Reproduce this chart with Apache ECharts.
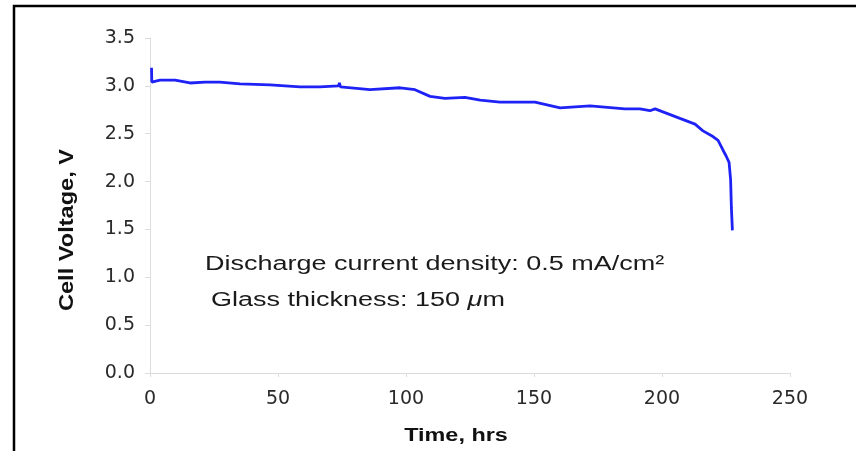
<!DOCTYPE html>
<html>
<head>
<meta charset="utf-8">
<script src="https://cdn.jsdelivr.net/npm/echarts@6/dist/echarts.min.js"></script>
<style>
html,body{margin:0;padding:0;background:#fff;}
#chart{width:856px;height:451px;}
</style>
</head>
<body>
<div id="chart"></div>
<script>
// Data
const timeHrs = [0.6, 0.7, 3.9, 9.8, 15.6, 21.5, 27.3, 35.2, 46.9, 58.6, 66.4, 73.6, 74.0, 74.4, 85.9, 97.7, 103.5, 109.4, 115.2, 123.0, 129.0, 136.7, 150.4, 160.2, 171.9, 185.5, 191.4, 195.3, 197.3, 207.0, 212.9, 216.0, 219.9, 221.9, 223.8, 225.0, 226.2, 226.8, 227.1, 227.5];
const cellVoltage = [3.19, 3.04, 3.06, 3.06, 3.03, 3.04, 3.04, 3.02, 3.01, 2.99, 2.99, 3.00, 3.03, 2.99, 2.96, 2.98, 2.96, 2.89, 2.87, 2.88, 2.85, 2.83, 2.83, 2.77, 2.79, 2.76, 2.76, 2.74, 2.76, 2.66, 2.60, 2.53, 2.47, 2.43, 2.33, 2.27, 2.20, 2.02, 1.73, 1.49];
const xTicks = [0, 50, 100, 150, 200, 250];
const yTicks = [0.0, 0.5, 1.0, 1.5, 2.0, 2.5, 3.0, 3.5];
const xTitle = 'Time, hrs';
const yTitle = 'Cell Voltage, V';
const noteLine1 = 'Discharge current density: 0.5 mA/cm²';
const noteLine2a = 'Glass thickness: 150 ';
const noteLine2mu = 'μ';
const noteLine2b = 'm';

const seriesData = timeHrs.map((t, i) => [t, cellVoltage[i]]);

const chart = echarts.init(document.getElementById('chart'));
const axisGray = '#dcdcdc';
const labelFont = 'DejaVu Sans';
chart.setOption({
  animation: false,
  backgroundColor: '#ffffff',
  grid: {left: 150, right: 66, top: 38, bottom: 78, containLabel: false},
  xAxis: {
    type: 'value',
    min: xTicks[0], max: xTicks[xTicks.length - 1], interval: 50,
    axisLine: {show: true, lineStyle: {color: axisGray, width: 1}},
    axisTick: {show: true, length: 4, lineStyle: {color: axisGray}},
    splitLine: {show: false},
    axisLabel: {color: '#2a2a2a', fontFamily: labelFont, fontSize: 19, margin: 17}
  },
  yAxis: {
    type: 'value',
    min: yTicks[0], max: yTicks[yTicks.length - 1], interval: 0.5,
    axisLine: {show: true, lineStyle: {color: axisGray, width: 1}},
    axisTick: {show: true, length: 5, lineStyle: {color: axisGray}},
    splitLine: {show: false},
    axisLabel: {color: '#2a2a2a', fontFamily: labelFont, fontSize: 19, margin: 15,
      formatter: v => v.toFixed(1)}
  },
  series: [{
    type: 'line',
    data: seriesData,
    showSymbol: false,
    smooth: false,
    lineStyle: {color: '#1f22f5', width: 2.8},
    z: 3
  }],
  graphic: [
    {type: 'polyline', shape: {points: [[14, 451], [14, 6], [856, 6]]},
     style: {stroke: '#000', lineWidth: 2.5, fill: null}, silent: true},
    {type: 'text', x: 456, y: 436, scaleX: 1.3,
     style: {text: xTitle, fontFamily: 'Liberation Sans', fontWeight: 'bold', fontSize: 18,
       fill: '#111', textAlign: 'center', textVerticalAlign: 'middle'}},
    {type: 'text', x: 67, y: 230, rotation: Math.PI / 2, scaleX: 1.18,
     style: {text: yTitle, fontFamily: 'Liberation Sans', fontWeight: 'bold', fontSize: 20,
       fill: '#111', textAlign: 'center', textVerticalAlign: 'middle'}},
    {type: 'text', x: 205, y: 264, scaleX: 1.35,
     style: {text: noteLine1, fontFamily: 'Liberation Sans', fontSize: 20,
       fill: '#1a1a1a', textAlign: 'left', textVerticalAlign: 'middle'}},
    {type: 'text', x: 211, y: 300, scaleX: 1.35,
     style: {text: '{n|' + noteLine2a + '}{i|' + noteLine2mu + '}{n|' + noteLine2b + '}',
       fontFamily: 'Liberation Sans', fontSize: 20, fill: '#1a1a1a',
       textAlign: 'left', textVerticalAlign: 'middle',
       rich: {
         n: {fontFamily: 'Liberation Sans', fontSize: 20, fill: '#1a1a1a'},
         i: {fontFamily: 'Liberation Sans', fontSize: 20, fontStyle: 'italic', fill: '#1a1a1a'}
       }}}
  ]
});
</script>
</body>
</html>
